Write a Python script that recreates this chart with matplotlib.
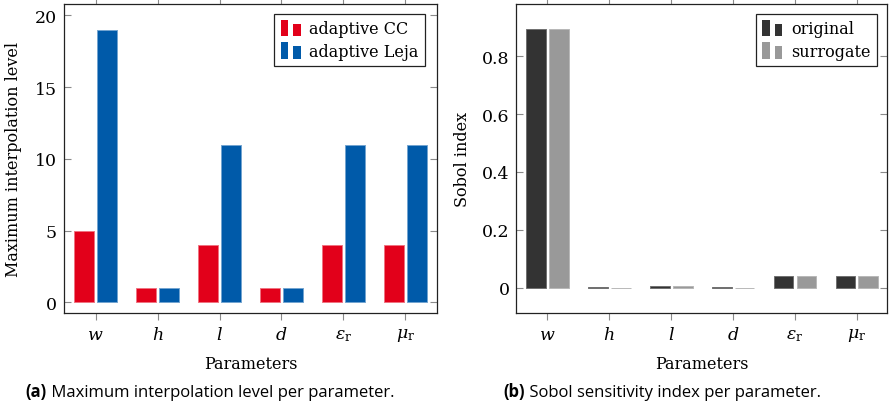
import matplotlib
matplotlib.use("Agg")
import matplotlib.pyplot as plt
from matplotlib.patches import Rectangle
from matplotlib.container import BarContainer
from matplotlib.legend_handler import HandlerBase

# Parameters and results
params = [r"$w$", r"$h$", r"$l$", r"$d$", r"$\varepsilon_\mathrm{r}$", r"$\mu_\mathrm{r}$"]
level_cc = [5, 1, 4, 1, 4, 4]
level_leja = [19, 1, 11, 1, 11, 11]
sobol_original = [0.892, 0.002, 0.007, 0.002, 0.040, 0.040]
sobol_surrogate = [0.892, 0.001, 0.005, 0.001, 0.040, 0.040]
level_ticks = [0, 5, 10, 15, 20]
sobol_ticks = [0, 0.2, 0.4, 0.6, 0.8]
sobol_ticklabels = ["0", "0.2", "0.4", "0.6", "0.8"]

RED = "#E2001A"
BLUE = "#005AA9"
DARK = "#333333"
GREY = "#999999"

plt.rcParams["font.family"] = ["DejaVu Serif"]
plt.rcParams["mathtext.fontset"] = "dejavuserif"
plt.rcParams["font.size"] = 10


class TwoBarHandler(HandlerBase):
    """Legend key drawn as two small bars of different heights."""

    def create_artists(self, legend, orig_handle, xdescent, ydescent,
                       width, height, fontsize, trans):
        fc = orig_handle.patches[0].get_facecolor()
        bw = width * 0.38
        h = height * 1.15
        y0 = -ydescent - height * 0.1
        r1 = Rectangle((-xdescent, y0), bw, h,
                       facecolor=fc, edgecolor="none", transform=trans)
        r2 = Rectangle((-xdescent + width - bw, y0), bw, h * 0.76,
                       facecolor=fc, edgecolor="none", transform=trans)
        return [r1, r2]


def light(c, f=0.45):
    rgb = matplotlib.colors.to_rgb(c)
    return tuple(v + (1 - v) * f for v in rgb)


def style_axes(ax):
    for s in ax.spines.values():
        s.set_linewidth(0.9)
        s.set_color("#222222")
    ax.tick_params(axis="x", direction="out", length=5, width=0.8,
                   color="#8a8a8a", top=True, bottom=True, pad=4,
                   labelsize=12.5)
    ax.tick_params(axis="y", direction="in", length=5, width=0.8,
                   color="#8a8a8a", left=True, right=True, pad=5,
                   labelsize=12.5)


def add_legend(ax, anchor):
    leg = ax.legend(loc="upper right", bbox_to_anchor=anchor,
                    borderaxespad=0,
                    handler_map={BarContainer: TwoBarHandler()},
                    handlelength=1.25, handleheight=1.0,
                    handletextpad=0.55, labelspacing=0.35,
                    borderpad=0.4, fancybox=False,
                    edgecolor="#222222", fontsize=11.5, framealpha=1)
    leg.get_frame().set_linewidth(0.9)
    return leg


fig = plt.figure(figsize=(8.95, 4.06), dpi=100)
ax1 = fig.add_axes([0.0715, 0.2266, 0.4168, 0.7611])
ax2 = fig.add_axes([0.5769, 0.2266, 0.4138, 0.7611])

x = list(range(len(params)))
bw = 0.32
off = 0.185

# (a) maximum interpolation level
ax1.bar([i - off for i in x], level_cc, width=bw, color=RED,
        edgecolor=light(RED), linewidth=0.7, label="adaptive CC", zorder=2)
ax1.bar([i + off for i in x], level_leja, width=bw, color=BLUE,
        edgecolor=light(BLUE), linewidth=0.7, label="adaptive Leja", zorder=2)
ax1.set_xlim(-0.51, 5.51)
ax1.set_ylim(-0.75, 20.8)
ax1.set_xticks(x)
ax1.set_xticklabels(params)
ax1.set_yticks(level_ticks)
style_axes(ax1)
ax1.set_ylabel("Maximum interpolation level", fontsize=11.5)
ax1.yaxis.set_label_coords(-0.113, 0.5)
ax1.set_xlabel("Parameters", fontsize=11.5)
ax1.xaxis.set_label_coords(0.5, -0.135)
add_legend(ax1, (0.968, 0.969))

# (b) Sobol sensitivity index
ax2.bar([i - off for i in x], sobol_original, width=bw, color=DARK,
        edgecolor=light(DARK, 0.3), linewidth=0.7, label="original", zorder=2)
ax2.bar([i + off for i in x], sobol_surrogate, width=bw, color=GREY,
        edgecolor=light(GREY, 0.3), linewidth=0.7, label="surrogate", zorder=2)
ax2.set_xlim(-0.5, 5.48)
ax2.set_ylim(-0.087, 0.98)
ax2.set_xticks(x)
ax2.set_xticklabels(params)
ax2.set_yticks(sobol_ticks)
ax2.set_yticklabels(sobol_ticklabels)
style_axes(ax2)
ax2.set_ylabel("Sobol index", fontsize=11.5)
ax2.yaxis.set_label_coords(-0.122, 0.5)
ax2.set_xlabel("Parameters", fontsize=11.5)
ax2.xaxis.set_label_coords(0.5, -0.135)
add_legend(ax2, (0.974, 0.969))

# Sub-captions: bold tag followed by regular text
cap_font = ["Open Sans", "DejaVu Sans"]
ta = fig.text(0.0287, 0.022, "(a)", fontsize=12, fontweight="bold",
              family=cap_font, va="baseline", ha="left")
fig.add_artist(plt.Annotation(" Maximum interpolation level per parameter.",
                              xy=(1, 0), xycoords=ta, va="bottom",
                              fontsize=12, family=cap_font))
tb = fig.text(0.5623, 0.022, "(b)", fontsize=12, fontweight="bold",
              family=cap_font, va="baseline", ha="left")
fig.add_artist(plt.Annotation(" Sobol sensitivity index per parameter.",
                              xy=(1, 0), xycoords=tb, va="bottom",
                              fontsize=12, family=cap_font))

fig.savefig("out.png", dpi=100)
